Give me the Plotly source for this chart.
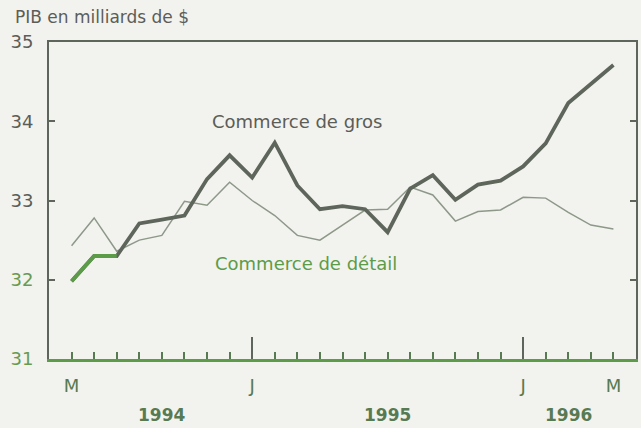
import plotly.graph_objects as go

# months from May 1994 to May 1996 (index 0..24)
months = list(range(25))
month_labels = ["M", "", "", "", "", "", "", "", "J", "", "", "", "",
                "", "", "", "", "", "", "", "J", "", "", "", "M"]
january_months = [8, 20]

gros = [31.98, 32.30, 32.30, 32.71, 32.76, 32.81, 33.27, 33.57, 33.29, 33.73,
        33.19, 32.89, 32.93, 32.89, 32.60, 33.15, 33.32, 33.01, 33.20, 33.25,
        33.43, 33.72, 34.23, 34.47, 34.71]
detail = [32.43, 32.78, 32.36, 32.50, 32.56, 32.99, 32.94, 33.23, 33.00, 32.81,
          32.56, 32.50, 32.69, 32.88, 32.89, 33.17, 33.07, 32.74, 32.86, 32.88,
          33.04, 33.03, 32.85, 32.69, 32.64]

years = ["1994", "1995", "1996"]
year_pos = [4, 14, 22]
y_ticks = [31, 32, 33, 34, 35]

BG = "#f2f2ee"
DARK = "#5e665c"
GRAY_TXT = "#5b5d58"
GREEN = "#5c9c48"
GREEN_LBL = "#679a52"
GREEN_DARK = "#587a52"
FONT = "DejaVu Sans"

fig = go.Figure()
fig.add_trace(go.Scatter(
    x=months, y=detail, mode="lines",
    line=dict(color="#8d9889", width=1.5),
    hoverinfo="skip", showlegend=False,
))
fig.add_trace(go.Scatter(
    x=months, y=gros, mode="lines",
    line=dict(color=DARK, width=3.8),
    hoverinfo="skip", showlegend=False,
))
# first stretch printed in green on the scan
fig.add_trace(go.Scatter(
    x=months[:3], y=gros[:3], mode="lines",
    line=dict(color=GREEN, width=3.8),
    hoverinfo="skip", showlegend=False,
))
# dummy traces to bring up the extra axes
fig.add_trace(go.Scatter(x=[None], y=[None], xaxis="x2", showlegend=False))
fig.add_trace(go.Scatter(x=[None], y=[None], xaxis="x3", showlegend=False))

ytext = []
for v in y_ticks:
    c = GREEN_LBL if v <= 32 else GRAY_TXT
    ytext.append(f"<span style='color:{c}'>{v}</span>")

fig.update_layout(
    width=641, height=428,
    paper_bgcolor=BG, plot_bgcolor=BG,
    font=dict(family=FONT, size=18, color=GRAY_TXT),
    margin=dict(l=49, r=3, t=42, b=69),
    xaxis=dict(
        range=[-1, 25], showgrid=False, zeroline=False,
        showline=True, linecolor=GREEN, linewidth=3,
        ticks="inside", ticklen=7, tickwidth=1.5, tickcolor=GREEN_DARK,
        tickvals=months, ticktext=month_labels,
        tickfont=dict(size=18, color=GREEN_DARK),
        ticklabelstandoff=8,
    ),
    xaxis2=dict(
        overlaying="x", matches="x", side="bottom",
        showgrid=False, zeroline=False, showline=False,
        ticks="inside", ticklen=22, tickwidth=1.5, tickcolor=DARK,
        tickvals=january_months, showticklabels=False,
    ),
    xaxis3=dict(
        overlaying="x", matches="x", side="top",
        showgrid=False, zeroline=False, showline=True,
        linecolor=DARK, linewidth=2, ticks="", showticklabels=False,
    ),
    yaxis=dict(
        range=[31, 35], showgrid=False, zeroline=False,
        showline=True, linecolor=DARK, linewidth=2, mirror="ticks",
        ticks="inside", ticklen=6, tickwidth=2, tickcolor=DARK,
        tickvals=y_ticks, ticktext=ytext,
        tickfont=dict(size=18),
        ticklabelstandoff=10,
    ),
    annotations=[
        dict(text="PIB en milliards de $", xref="paper", yref="paper",
             x=-0.062, y=1.078, xanchor="left", yanchor="middle",
             showarrow=False, font=dict(size=17, color=GRAY_TXT)),
        dict(text="Commerce de gros", xref="x", yref="y",
             x=10.0, y=34.0, showarrow=False,
             font=dict(size=18, color=GRAY_TXT)),
        dict(text="Commerce de détail", xref="x", yref="y",
             x=10.4, y=32.21, showarrow=False,
             font=dict(size=18, color=GREEN)),
    ] + [
        dict(text=f"<b>{yr}</b>", xref="x", yref="paper",
             x=p, y=-0.177, yanchor="middle", showarrow=False,
             font=dict(size=17, color=GREEN_DARK))
        for yr, p in zip(years, year_pos)
    ],
)

fig.write_html("out.html", config={"displayModeBar": False},
               post_script="document.body.style.margin='0';")
